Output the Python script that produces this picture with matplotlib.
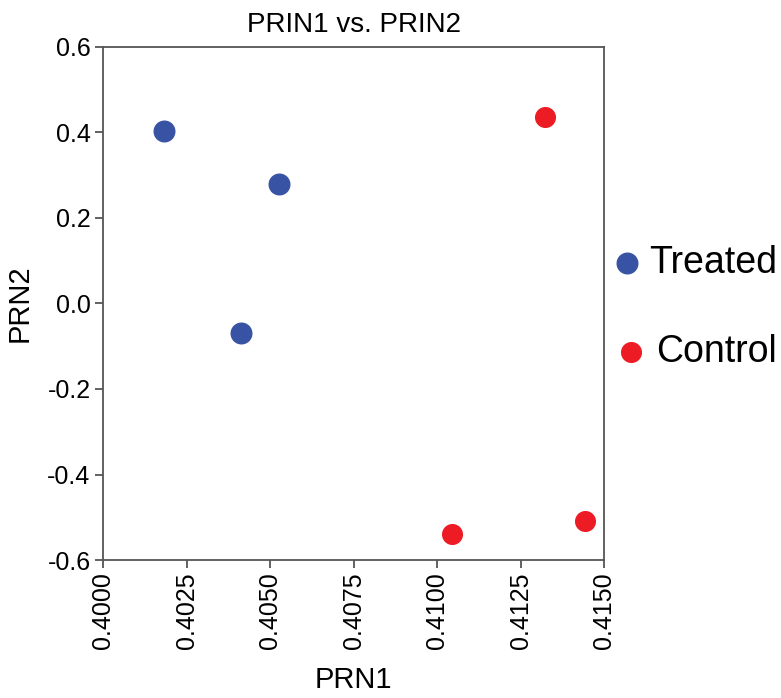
import matplotlib
matplotlib.use("Agg")
import matplotlib.pyplot as plt

plt.rcParams['font.family'] = ['Liberation Sans', 'DejaVu Sans']

# data
treated_x = [0.40183, 0.40527, 0.40413]
treated_y = [0.404, 0.280, -0.068]
control_x = [0.41323, 0.41045, 0.41443]
control_y = [0.436, -0.539, -0.509]

x_ticks = [0.4000, 0.4025, 0.4050, 0.4075, 0.4100, 0.4125, 0.4150]
y_ticks = [0.6, 0.4, 0.2, 0.0, -0.2, -0.4, -0.6]

blue = '#3953a4'
red = '#ed1c24'

fig = plt.figure(figsize=(7.81, 6.98), dpi=100)
ax = fig.add_axes([0.1319, 0.1977, 0.6415, 0.735])

ax.scatter(treated_x, treated_y, s=220, color=blue, zorder=3)
ax.scatter(control_x, control_y, s=200, color=red, zorder=3)

ax.set_xlim(0.4000, 0.4150)
ax.set_ylim(-0.6, 0.6)
ax.set_xticks(x_ticks)
ax.set_xticklabels(['%.4f' % v for v in x_ticks], rotation=90)
ax.set_yticks(y_ticks)
ax.set_yticklabels(['%.1f' % v for v in y_ticks])
ax.tick_params(direction='out', length=6, width=1.3, color='#555555',
               labelsize=18, pad=3)

for s in ax.spines.values():
    s.set_color('#555555')
    s.set_linewidth(1.3)

ax.set_title('PRIN1 vs. PRIN2', fontsize=20, pad=11)
ax.set_xlabel('PRN1', fontsize=21, labelpad=12)
ax.set_ylabel('PRN2', fontsize=21, labelpad=10)

# legend drawn by hand outside the axes, as in the reference
ax.scatter([1.046], [0.579], s=220, color=blue, transform=ax.transAxes, clip_on=False)
ax.text(1.090, 0.579, 'Treated', fontsize=27, va='center', ha='left', transform=ax.transAxes)
ax.scatter([1.054], [0.405], s=200, color=red, transform=ax.transAxes, clip_on=False)
ax.text(1.104, 0.405, 'Control', fontsize=27, va='center', ha='left', transform=ax.transAxes)

fig.savefig('out.png', dpi=100)
